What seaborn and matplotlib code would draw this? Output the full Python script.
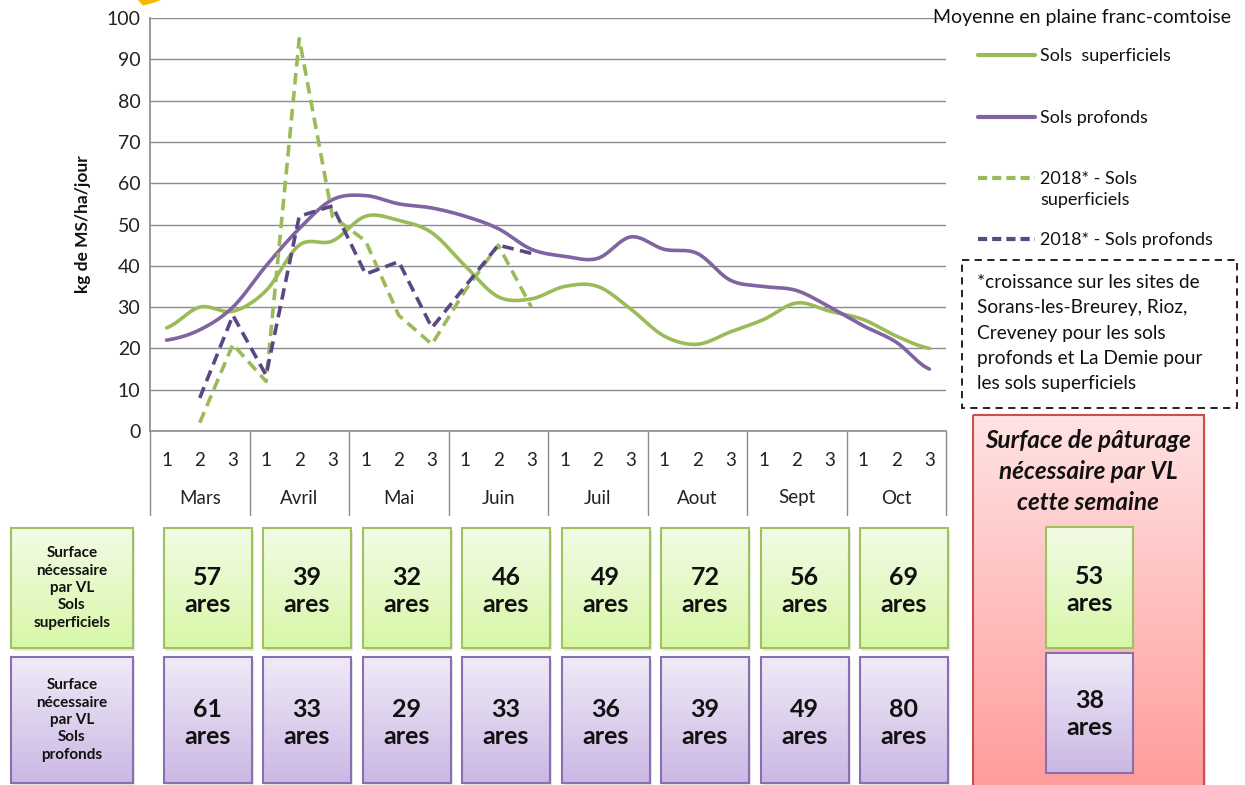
import numpy as np
import matplotlib
matplotlib.use("Agg")
import matplotlib.pyplot as plt
import seaborn as sns
from matplotlib.patches import Rectangle, Polygon
from matplotlib.colors import LinearSegmentedColormap
import matplotlib.transforms as mtransforms

# Data
months = ["Mars", "Avril", "Mai", "Juin", "Juil", "Aout", "Sept", "Oct"]
decades = ["1", "2", "3"]
sols_superficiels = [25, 30, 29, 34, 45, 46, 52, 51, 48, 40, 32.5, 32,
                     35, 35, 29.5, 23, 21, 24, 27, 31, 29, 27, 23, 20]
sols_profonds = [22, 24.5, 30, 40, 49, 56, 57, 55, 54, 52, 49, 44,
                 42.3, 41.8, 47, 44, 43, 36.5, 35, 34, 30, 25.5, 21.5, 15]
sup_2018 = [np.nan, 2, 21, 12, 95, 52, 46, 28, 21, 34, 45, 30]
prof_2018 = [np.nan, 8, 28, 13.5, 52, 54.5, 38, 41, 25, 35, 45, 43]
ares_superficiels = [57, 39, 32, 46, 49, 72, 56, 69]
ares_profonds = [61, 33, 29, 33, 36, 39, 49, 80]
semaine_superficiels = 53
semaine_profonds = 38

GREEN = "#9bbb59"
PURPLE = "#8064a2"
PURPLE_D = "#5c4785"
GRID = "#8c8c8c"


def smooth(ys, n=24):
    # Catmull-Rom rendering, like Excel's "smoothed line"
    p = np.asarray(ys, float)
    xs, out = [], []
    for i in range(len(p) - 1):
        p0 = p[i - 1] if i > 0 else p[i]
        p1, p2 = p[i], p[i + 1]
        p3 = p[i + 2] if i + 2 < len(p) else p[i + 1]
        t = np.linspace(0, 1, n, endpoint=False)
        y = 0.5 * ((2 * p1) + (-p0 + p2) * t + (2 * p0 - 5 * p1 + 4 * p2 - p3) * t ** 2
                   + (-p0 + 3 * p1 - 3 * p2 + p3) * t ** 3)
        xs.append(i + t)
        out.append(y)
    xs.append([len(p) - 1])
    out.append([p[-1]])
    return np.concatenate(xs), np.concatenate(out)


sns.set_theme(style="white")
plt.rcParams["font.family"] = ["Lato", "DejaVu Sans"]

W, H = 1245, 785
fig = plt.figure(figsize=(W / 100, H / 100), dpi=100)
ax = fig.add_axes([150 / W, 1 - 431 / H, 796 / W, 413 / H])

idx = np.arange(len(sols_superficiels))
sx, sy = smooth(sols_superficiels)
sns.lineplot(x=sx, y=sy, ax=ax, color=GREEN, lw=2.6, sort=False, zorder=3)
px, py = smooth(sols_profonds)
sns.lineplot(x=px, y=py, ax=ax, color=PURPLE, lw=2.6, sort=False, zorder=3)
i18 = np.arange(len(sup_2018))
sns.lineplot(x=i18, y=sup_2018, ax=ax, color=GREEN, lw=2.6, ls=(0, (3.2, 1.8)), zorder=4)
sns.lineplot(x=i18, y=prof_2018, ax=ax, color=PURPLE_D, lw=2.6, ls=(0, (3.2, 1.8)), zorder=4)

ax.set_xlim(-0.5, len(idx) - 0.5)
ax.set_ylim(0, 100)
ax.set_yticks(range(0, 101, 10))
ax.yaxis.grid(True, color=GRID, lw=1)
ax.set_axisbelow(True)
for s in ["top", "right", "bottom"]:
    ax.spines[s].set_visible(False)
ax.spines["left"].set_color(GRID)
ax.tick_params(axis="y", length=0, pad=7, labelsize=14, labelcolor="#222222")
ax.set_xticks(idx)
ax.set_xticklabels(decades * len(months))
ax.tick_params(axis="x", length=0, pad=15, labelsize=13.5, labelcolor="#222222")
ax.set_ylabel("kg de MS/ha/jour", fontsize=12.5, fontweight="bold", color="#111111")
ax.yaxis.set_label_coords(-0.074, 0.5)

trans = mtransforms.blended_transform_factory(ax.transData, ax.transAxes)
sep = 84 / 413
for m in range(len(months) + 1):
    ax.plot([3 * m - 0.5] * 2, [0, -sep], transform=trans, color=GRID, lw=1,
            clip_on=False)
ax.plot([-0.5, len(idx) - 0.5], [0, 0], transform=trans, color=GRID, lw=1.2, clip_on=False)
for m, name in enumerate(months):
    ax.text(3 * m + 1, -67 / 413, name, transform=trans, ha="center", va="center",
            fontsize=13.5, color="#222222")

# overlay in pixel coordinates for legend, note and boxes
ov = fig.add_axes([0, 0, 1, 1])
ov.set_xlim(0, W)
ov.set_ylim(H, 0)
ov.axis("off")
ov.patch.set_alpha(0)

ov.add_patch(Polygon([[138, 0], [161, 0], [153, 3], [143, 5.5]], closed=True,
                     color="#f5b800", lw=0))

ov.text(933, 18, "Moyenne en plaine franc-comtoise", fontsize=14, va="center",
        ha="left", color="#111111")
leg = [(55, GREEN, "-", "Sols  superficiels"),
       (117, PURPLE, "-", "Sols profonds"),
       (178, GREEN, (0, (2.2, 1.2)), "2018* - Sols\nsuperficiels"),
       (239, PURPLE_D, (0, (2.2, 1.2)), "2018* - Sols profonds")]
for y, c, ls, lab in leg:
    ov.plot([978, 1035], [y, y], color=c, lw=3, ls=ls)
    ov.text(1040, y - 7, lab, fontsize=13, va="top", ha="left", color="#111111",
            linespacing=1.4)

ov.add_patch(Rectangle((962, 260), 275, 148, fill=False, ec="#111111", lw=1.3,
                       ls=(0, (4, 3))))
note = ["*croissance sur les sites de", "Sorans-les-Breurey, Rioz,",
        "Creveney pour les sols", "profonds et La Demie pour",
        "les sols superficiels"]
for k, line in enumerate(note):
    ov.text(977, 282 + 25.5 * k, line, fontsize=13.8, va="center", ha="left", color="#111111")


def gbox(x0, y0, x1, y1, top, bottom, edge, lw=1.5):
    cmap = LinearSegmentedColormap.from_list("g", [top, bottom])
    grad = np.linspace(0, 1, 64).reshape(-1, 1)
    ov.imshow(grad, cmap=cmap, extent=[x0, x1, y1, y0], aspect="auto",
              interpolation="bilinear", zorder=1)
    ov.add_patch(Rectangle((x0 + 2, y0 + 3), x1 - x0, y1 - y0, fc="#00000018",
                           ec="none", zorder=0.5))
    ov.add_patch(Rectangle((x0, y0), x1 - x0, y1 - y0, fill=False, ec=edge,
                           lw=lw, zorder=2))


GT, GB, GE = "#f2fbe6", "#d8f7a8", "#9fc25e"
PT, PB, PE = "#efeaf7", "#cbb8e4", "#8a6fb0"
num_kw = dict(fontsize=18, fontweight="bold", ha="center", va="center",
              linespacing=1.22, zorder=3, color="#111111")

# red summary panel
gbox(973, 415, 1204, 790, "#ffe2e2", "#ff9c9c", "#c9504d", lw=1.5)
for k, line in enumerate(["Surface de pâturage", "nécessaire par VL", "cette semaine"]):
    ov.text(1088, 440 + 31.5 * k, line, fontsize=17.5, fontweight="bold", style="italic",
            ha="center", va="center", color="#111111", zorder=3)
gbox(1046, 527, 1133, 648, GT, GB, GE)
gbox(1046, 653, 1133, 773, PT, PB, PE)
ov.text(1089.5, 590, f"{semaine_superficiels}\nares", **num_kw)
ov.text(1089.5, 714, f"{semaine_profonds}\nares", **num_kw)

# row label boxes
lab_kw = dict(fontsize=11, fontweight="bold", ha="center", va="center",
              linespacing=1.3, zorder=3, color="#111111")
gbox(11, 528, 133, 648, GT, GB, GE)
gbox(11, 657, 133, 783, PT, PB, PE)
ov.text(72, 588, "Surface\nnécessaire\npar VL\nSols\nsuperficiels", **lab_kw)
ov.text(72, 720, "Surface\nnécessaire\npar VL\nSols\nprofonds", **lab_kw)

# monthly boxes, aligned on the month columns of the chart
px_per_unit = 796 / 24
for m in range(len(months)):
    x1 = 150 + (3 * m + 3) * px_per_unit + 2
    x0 = x1 - 88
    xc = (x0 + x1) / 2
    gbox(x0, 528, x1, 648, GT, GB, GE)
    gbox(x0, 657, x1, 783, PT, PB, PE)
    ov.text(xc, 591, f"{ares_superficiels[m]}\nares", **num_kw)
    ov.text(xc, 723, f"{ares_profonds[m]}\nares", **num_kw)

fig.savefig("out.png", dpi=100)
